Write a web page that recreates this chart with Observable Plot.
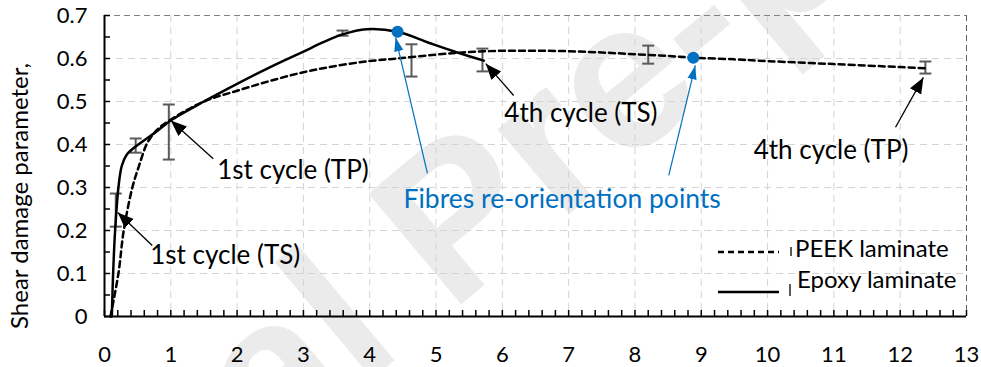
<!DOCTYPE html>
<html><head><meta charset="utf-8">
<script src="https://cdn.jsdelivr.net/npm/d3@7"></script>
<script src="https://cdn.jsdelivr.net/npm/@observablehq/plot@0.6"></script>
<style>
body{margin:0;background:#fff;}
#chart{position:relative;width:981px;height:367px;overflow:hidden;background:#fff}
#chart svg.plot-main{position:absolute;left:0;top:0}
#legend{position:absolute;left:0;top:0;pointer-events:none}
</style>
</head><body><div id="chart"></div>
<script>
// ---- data ----
const epoxyX = [0.11, 0.13, 0.16, 0.21, 0.26, 0.33, 0.45, 0.6, 0.8, 1.0, 1.5, 2.0, 2.5, 3.0, 3.3, 3.59, 3.95, 4.42, 4.9, 5.32, 5.72];
const epoxyY = [0.0, 0.1, 0.2, 0.3, 0.35, 0.375, 0.393, 0.41, 0.432, 0.456, 0.5, 0.541, 0.58, 0.616, 0.638, 0.656, 0.668, 0.662, 0.636, 0.614, 0.595];
const peekX = [0.09, 0.21, 0.29, 0.42, 0.52, 0.65, 0.8, 1.0, 1.5, 2.0, 2.5, 3.0, 3.5, 4.0, 4.42, 5.0, 5.5, 6.0, 6.5, 7.0, 7.5, 8.0, 8.5, 8.88, 9.5, 10.0, 11.0, 12.0, 12.41];
const peekY = [0.0, 0.1, 0.2, 0.3, 0.35, 0.405, 0.435, 0.458, 0.5, 0.525, 0.548, 0.568, 0.583, 0.594, 0.6, 0.609, 0.615, 0.618, 0.618, 0.617, 0.614, 0.61, 0.606, 0.602, 0.598, 0.594, 0.587, 0.58, 0.577];
const errX = [0.17, 0.47, 0.97, 3.59, 4.63, 5.7, 8.2, 12.38];
const errLow = [0.209, 0.381, 0.365, 0.653, 0.558, 0.570, 0.588, 0.565];
const errHigh = [0.286, 0.414, 0.493, 0.665, 0.633, 0.623, 0.630, 0.593];
const reorientX = [4.42, 8.88];
const reorientY = [0.662, 0.602];
const xTicks = [0,1,2,3,4,5,6,7,8,9,10,11,12,13];
const xTickLabels = ["0","1","2","3","4","5","6","7","8","9","10","11","12","13"];
const yTicks = [0,0.1,0.2,0.3,0.4,0.5,0.6,0.7];
const yTickLabels = ["0","0.1","0.2","0.3","0.4","0.5","0.6","0.7"];
const noteLabels = ["1st cycle (TS)", "1st cycle (TP)", "4th cycle (TS)", "4th cycle (TP)"];
const noteX = [0.69, 1.70, 6.03, 9.79];
const noteY = [0.142, 0.34, 0.472, 0.386];
const arrowFromX = [0.72, 1.64, 6.17, 11.93];
const arrowFromY = [0.165, 0.367, 0.514, 0.44];
const arrowToX = [0.20, 1.0, 5.75, 12.35];
const arrowToY = [0.242, 0.456, 0.588, 0.556];
const blueLabel = "Fibres re-orientation points";
const blueLabelX = 4.51, blueLabelY = 0.272;
const blueFromX = [4.87, 8.51];
const blueFromY = [0.333, 0.328];
const blueToX = [4.39, 8.91];
const blueToY = [0.649, 0.584];
const yLabel = "Shear damage parameter,";
const seriesNames = ["PEEK laminate", "Epoxy laminate"];
const watermark = "Journal Pre-proof";

// ---- tables ----
const epoxy = epoxyX.map((x, i) => ({x, y: epoxyY[i]}));
const peek = peekX.map((x, i) => ({x, y: peekY[i]}));
const errs = errX.map((x, i) => ({x, lo: errLow[i], hi: errHigh[i]}));
const dots = reorientX.map((x, i) => ({x, y: reorientY[i]}));
const notes = noteLabels.map((t, i) => ({t, x: noteX[i], y: noteY[i]}));
const arrows = arrowFromX.map((x, i) => ({x1: x, y1: arrowFromY[i], x2: arrowToX[i], y2: arrowToY[i]}));
const blueArrows = blueFromX.map((x, i) => ({x1: x, y1: blueFromY[i], x2: blueToX[i], y2: blueToY[i]}));
const xt = xTicks.map((v, i) => ({v, t: xTickLabels[i]}));
const yt = yTicks.map((v, i) => ({v, t: yTickLabels[i]}));
const xMinor = d3.range(0, 13.001, 0.2);
const yMinor = d3.range(0, 0.7001, 0.05);
const gridX = xTicks.filter(v => v > 0 && v < 13);
const gridY = yTicks.filter(v => v > 0 && v < 0.7);

const FONT = "Lato, 'Open Sans', sans-serif";
const BLUE = "#0070C0";

const svg = Plot.plot({
  width: 981, height: 367,
  marginLeft: 104, marginRight: 15, marginTop: 15, marginBottom: 51,
  x: {domain: [0, 13], axis: null},
  y: {domain: [0, 0.7], axis: null},
  style: {fontFamily: FONT, background: "transparent", overflow: "visible"},
  marks: [
    // watermark
    Plot.text([watermark], {frameAnchor: "top-left", dx: 352, dy: 205, text: d => d, rotate: -40,
      fontSize: 210, fontWeight: "bold", fontFamily: "'Liberation Sans', Arial, sans-serif",
      fill: "#ebebeb", textAnchor: "middle", lineAnchor: "middle"}),
    // grid
    Plot.ruleX(gridX, {stroke: "#d4d4d4", strokeWidth: 1, strokeDasharray: "7,5"}),
    Plot.ruleY(gridY, {stroke: "#d4d4d4", strokeWidth: 1, strokeDasharray: "7,5"}),
    Plot.ruleY([0.7], {stroke: "#808080", strokeWidth: 1, strokeDasharray: "6,4"}),
    Plot.ruleX([13], {stroke: "#606060", strokeWidth: 1, strokeDasharray: "6,4"}),
    // error bars
    Plot.ruleX(errs, {x: "x", y1: "lo", y2: "hi", stroke: "#5a5a5a", strokeWidth: 2}),
    Plot.link(errs, {x1: d => d.x - 0.09, x2: d => d.x + 0.09, y1: "lo", y2: "lo", stroke: "#5a5a5a", strokeWidth: 2}),
    Plot.link(errs, {x1: d => d.x - 0.09, x2: d => d.x + 0.09, y1: "hi", y2: "hi", stroke: "#5a5a5a", strokeWidth: 2}),
    // curves
    Plot.line(peek, {x: "x", y: "y", curve: "catmull-rom", stroke: "#000", strokeWidth: 2.5, strokeDasharray: "6,4"}),
    Plot.line(epoxy, {x: "x", y: "y", curve: "catmull-rom", stroke: "#000", strokeWidth: 2.5}),
    Plot.dot(dots, {x: "x", y: "y", r: 6, fill: BLUE, stroke: "none"}),
    // arrows
    Plot.link(arrows, {x1: "x1", y1: "y1", x2: "x2", y2: "y2", stroke: "#000", strokeWidth: 1.3, markerEnd: "arrow"}),
    Plot.link(blueArrows, {x1: "x1", y1: "y1", x2: "x2", y2: "y2", stroke: BLUE, strokeWidth: 1.2, markerEnd: "arrow"}),
    Plot.text(notes, {x: "x", y: "y", text: "t", textAnchor: "start", fontSize: 26, fill: "#000"}),
    Plot.text([blueLabel], {x: () => blueLabelX, y: () => blueLabelY, text: d => d, textAnchor: "start", fontSize: 26.5, fill: BLUE}),
    // axes
    Plot.ruleX(xMinor, {y1: 0, y2: 0.014, stroke: "#000", strokeWidth: 1.5}),
    Plot.ruleY(yMinor, {x1: 0, x2: 0.09, stroke: "#000", strokeWidth: 1.5}),
    Plot.ruleY([0], {stroke: "#000", strokeWidth: 2}),
    Plot.ruleX([0], {stroke: "#000", strokeWidth: 2}),
    Plot.text(xt, {x: "v", y: () => 0, dy: 38, text: "t", fontSize: 22, fill: "#000"}),
    Plot.text(yt, {x: () => 0, y: "v", dx: -17, text: "t", textAnchor: "end", fontSize: 22, fill: "#000"}),
    Plot.text([yLabel], {frameAnchor: "left", dx: -84, dy: 30, rotate: -90, text: d => d, textAnchor: "middle", fontSize: 24, fill: "#000"})
  ]
});
svg.classList.add("plot-main");

// filled arrow heads
svg.querySelectorAll("marker").forEach(m => {
  const c = m.getAttribute("stroke") || "#000";
  const blue = c.toLowerCase() === BLUE.toLowerCase();
  m.setAttribute("viewBox", "-10 -5 10 10");
  m.setAttribute("markerUnits", "userSpaceOnUse");
  m.setAttribute("markerWidth", blue ? 14 : 16);
  m.setAttribute("markerHeight", blue ? 14 : 16);
  m.setAttribute("fill", c);
  m.setAttribute("stroke", "none");
  const p = m.querySelector("path");
  if (p) p.setAttribute("d", blue ? "M-10,-3.3L0,0L-10,3.3Z" : "M-10,-4L0,0L-10,4Z");
});

const chart = document.getElementById("chart");
chart.appendChild(svg);

// legend (inside the plot area, lower right)
const ns = "http://www.w3.org/2000/svg";
const leg = document.createElementNS(ns, "svg");
leg.setAttribute("id", "legend");
leg.setAttribute("width", 981); leg.setAttribute("height", 367);
const items = [
  {name: seriesNames[0], dash: "6,4", ly: 252, ty: 257, tx: 795, my1: 247, my2: 256, mx: 791},
  {name: seriesNames[1], dash: null, ly: 292, ty: 288, tx: 797, my1: 284, my2: 296, mx: 790}
];
items.forEach(it => {
  const l = document.createElementNS(ns, "line");
  l.setAttribute("x1", 718); l.setAttribute("x2", 779);
  l.setAttribute("y1", it.ly); l.setAttribute("y2", it.ly);
  l.setAttribute("stroke", "#000"); l.setAttribute("stroke-width", 2.5);
  if (it.dash) l.setAttribute("stroke-dasharray", it.dash);
  leg.appendChild(l);
  const mk = document.createElementNS(ns, "line");
  mk.setAttribute("x1", it.mx); mk.setAttribute("x2", it.mx);
  mk.setAttribute("y1", it.my1); mk.setAttribute("y2", it.my2);
  mk.setAttribute("stroke", "#222"); mk.setAttribute("stroke-width", 1.5);
  leg.appendChild(mk);
  const t = document.createElementNS(ns, "text");
  t.setAttribute("x", it.tx); t.setAttribute("y", it.ty);
  t.setAttribute("font-family", FONT); t.setAttribute("font-size", 24);
  t.textContent = it.name;
  leg.appendChild(t);
});
chart.appendChild(leg);
</script>
</body></html>
